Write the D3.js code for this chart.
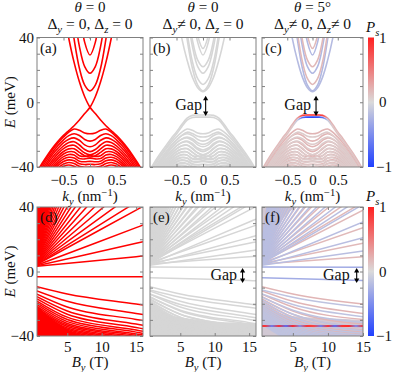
<!DOCTYPE html>
<html>
<head>
<meta charset="utf-8">
<script src="https://cdn.jsdelivr.net/npm/d3@7"></script>
<style>
  body { margin: 0; background: #fff; }
  svg text { font-family: "Liberation Serif", "Times New Roman", serif; fill: #111; }
</style>
</head>
<body>
<div id="chart"></div>
<script>
// ---------------- data ----------------
// top row: subband energies (meV) at k_y >= 0, mirrored to k_y < 0
const kHalf = [0, 0.1, 0.2, 0.3, 0.4, 0.5, 0.6, 0.7, 0.8, 0.9, 1.0];

const condA = [
  [7, 10.6, 21, 39, 62],
  [17.9, 22, 34.5, 56],
  [29.2, 37, 60],
  [39.8, 48]
];
const surfUpA = [-3.1, 3.4, 12.6, 24.6, 39.4, 57];
const surfDownA = [-3.1, -7, -11, -14.5, -17.5, -20.5, -24, -28, -32.5, -37.5, -43];
const valA = [
  [-19.5, -19, -17.3, -16.5, -18.5, -21.5, -25, -29, -33.5, -38.5, -44],
  [-24, -23, -20.5, -19.5, -20.6, -23.2, -26.6, -30.6, -35, -40, -45.5],
  [-27.5, -26.3, -23.5, -22, -22.8, -25, -28.3, -32, -36.5, -41.5],
  [-30.5, -29.2, -26.4, -24.4, -24.9, -26.9, -30, -33.7, -38, -43],
  [-32.5, -31.3, -28.8, -26.6, -26.9, -28.7, -31.6, -35.3, -39.5, -44.5],
  [-33.8, -33, -31, -28.7, -28.8, -30.4, -33.2, -36.8, -41],
  [-32.8, -33.5, -33, -30.7, -30.6, -32, -34.7, -38.3, -42.5],
  [-34.5, -35, -34.8, -32.6, -32.3, -33.6, -36.2, -39.8, -44],
  [-36.5, -36.8, -36.4, -34.4, -34, -35.1, -37.6, -41.2],
  [-38.3, -38.5, -38, -36.2, -35.6, -36.6, -39, -42.6],
  [-40, -40.2, -39.6, -37.9, -37.2, -38.1, -40.4],
  [-41.5, -41.7, -41.2, -39.6, -38.8, -39.6, -41.8]
];

// gapped panels (b), (c)
const condShiftB = [0, 4];
const valShiftB = [0, -2];
const surfUpB = [6.5, 9, 15.5, 26, 39.5, 57];
const surfDownB = [-7.9, -7.9, -8.1, -9.8, -13.8, -18.3, -22.4, -26.8, -31.3, -36.3, -41.8];
const surfDownShiftC = [0, -1.3];

// spin polarisation P_s for panel (c)
const condPc = [-0.22, 0.18];
const valPc = [0.2, 0.08];
const surfUpPc = -0.2;
const flatPc = [
  [0.95, 0.95, 0.8, 0.3, 0.2, 0.18, 0.18, 0.18, 0.18, 0.18, 0.18],
  [-0.95, -0.9, -0.7, -0.1, 0.1, 0.12, 0.12, 0.12, 0.12, 0.12, 0.12]
];

// bottom row: Landau levels vs B_y (T)
const bDomainD = [0.6, 16];
const bDomainF = [0.6, 15];
const fanOrigin = [0, 3];
const fanEndD = [9.2, 17.5, 27.2, 38.1, 43, 49.5, 57, 65, 74, 83, 93, 103, 114, 126, 138,
  151, 165, 179, 194, 210, 226, 243, 261, 280, 300, 320, 341, 363, 386, 410];
const zeroModeD = [-3.2, -3.2];
const lowB = [0.6, 5, 15];
const lowStartD = [-9.5, -12, -14, -15.6, -17, -18.3, -19.5, -20.6, -21.6, -22.5, -23.4, -24.2,
  -25, -25.8, -26.6, -27.4, -28.2, -29, -29.8, -30.6];
const lowMidD = [-14, -18.5, -22, -24.5, -26.5, -28.3, -29.8, -31.1, -32.2, -33.2, -34.1, -35,
  -35.8, -36.6, -37.4, -38.2, -39, -39.8, -40.6, -41.4];
const lowEndD = [-20.2, -26, -29.7, -32.6, -34.7, -36.3, -37.6, -38.7, -39.6, -40.4, -41.2, -42,
  -42.8, -43.6, -44.4, -45.2, -46, -46.8, -47.6, -48.4];

// saturated (unresolved) level regions: B and boundary energy
const denseTopB = { d: [0.6, 1.2, 1.8, 2.4], e: [0.6, 1.5, 2.5, 3.2], f: [0.6, 2, 3.5, 5.5] };
const denseTopE = { d: [6, 16, 30, 40], e: [6, 18, 33, 40], f: [8, 20, 32, 40] };
const denseBotB = { d: [0.6, 2, 4, 6, 7.5], e: [0.6, 3, 6, 10, 16], f: [0.6, 3, 6, 10, 15] };
const denseBotE = { d: [-21, -27, -33, -38, -40], e: [-18, -26, -29, -31, -32], f: [-20, -26, -28, -29, -30] };

// gapped panels (e), (f)
const fanOriginE = [[0, 4.5], [0, 3.5]];
const fanShiftE = [0, 3.5];
const gapUpE = [2.8, 2.6];
const gapLowE = [-3.8, -5.6];
const lowShiftE = [0, -2];
const fanPf = [0.18, -0.18];
const lowPf = [0.2, -0.15];
const gapPf = [-0.3, -0.3];
const densePf = [0.1, -0.12];
const stripEf = -33.8;
const stripB = [1, 2, 3, 4, 5, 6, 7, 8, 9, 10, 11, 12, 13, 14, 15];
const stripPf = [0.9, -0.6, 0.9, -0.7, 0.95, -0.5, 0.9, 0.8, -0.6, 0.9, -0.7, 0.9, 0.95, -0.5, 0.9];

// gap markers: [x position, E top, E bottom, x of label end, label baseline E]
const gapMarkK = { b: [0.05, 4, -8.5, -0.02, -4.8], c: [0.07, 4, -8.5, -0.03, -4.8] };
const gapMarkB = { e: [14.05, 2.2, -7.1, 13.25, -5.3], f: [14.1, 2.2, -7.1, 13.1, -5.3] };

// ---------------- layout ----------------
const W = 394, H = 372;
const colX = [[37, 143], [150, 256], [262, 363]];
const rowY = [[37.5, 167], [207, 336]];
const frameCol = "#808080";
const redLine = "#ff0000";
const grayLine = "#d6d6d6";
const pColor = d3.scaleLinear().domain([-1, 0, 1]).range(["#2040ff", "#dadada", "#ff2020"]);

const svg = d3.select("#chart").append("svg").attr("width", W).attr("height", H);
const defs = svg.append("defs");
let gid = 0;

function rich(sel, parts) {
  let shift = 0;
  parts.forEach(([t, s]) => {
    const ts = sel.append("tspan").text(t);
    let target = 0;
    if (s && s.includes("sub")) target = 4;
    if (s && s.includes("sup")) target = -5;
    if (target !== shift) ts.attr("dy", target - shift);
    shift = target;
    if (target !== 0) ts.attr("font-size", "0.7em");
    if (s && s.includes("i")) ts.attr("font-style", "italic");
  });
}

function makePanel(col, row, xDomain) {
  const x = d3.scaleLinear().domain(xDomain).range(colX[col]);
  const y = d3.scaleLinear().domain([-40, 40]).range([rowY[row][1], rowY[row][0]]);
  const id = "clip" + (gid++);
  defs.append("clipPath").attr("id", id).append("rect")
    .attr("x", colX[col][0]).attr("y", rowY[row][0])
    .attr("width", colX[col][1] - colX[col][0]).attr("height", rowY[row][1] - rowY[row][0]);
  const g = svg.append("g");
  const plot = g.append("g").attr("clip-path", `url(#${id})`);
  return { x, y, g, plot, col, row };
}

function drawFrame(p, xTicks, xFmt, letter) {
  const [x0, x1] = colX[p.col], [y0, y1] = rowY[p.row];
  const yTicks = d3.range(-40, 41, 10);
  const style = ax => {
    ax.select(".domain").remove();
    ax.selectAll("line").attr("stroke", frameCol);
    ax.attr("font-family", null).attr("font-size", 15);
  };
  p.g.append("g").attr("transform", `translate(${x0},0)`)
    .call(d3.axisLeft(p.y).tickValues(yTicks).tickSize(-3).tickPadding(3)
      .tickFormat(d => p.col === 0 && d % 40 === 0 ? d3.format("d")(d) : ""))
    .call(style);
  p.g.append("g").attr("transform", `translate(${x1},0)`)
    .call(d3.axisRight(p.y).tickValues(yTicks).tickSize(-3).tickFormat(""))
    .call(style);
  p.g.append("g").attr("transform", `translate(0,${y1})`)
    .call(d3.axisBottom(p.x).tickValues(xTicks).tickSize(-3).tickPadding(p.row === 0 ? 7 : 5).tickFormat(xFmt))
    .call(style);
  p.g.append("g").attr("transform", `translate(0,${y0})`)
    .call(d3.axisTop(p.x).tickValues(xTicks).tickSize(-3).tickFormat(""))
    .call(style);
  p.g.append("rect").attr("x", x0).attr("y", y0).attr("width", x1 - x0).attr("height", y1 - y0)
    .attr("fill", "none").attr("stroke", frameCol).attr("stroke-width", 1);
  p.g.append("text").attr("x", x0 + 3).attr("y", y0 + 15).attr("font-size", 15).text(letter);
}

// ---------- top row helpers ----------
function mirror(vals) {
  const pts = [];
  for (let i = vals.length - 1; i > 0; i--) pts.push([-kHalf[i], vals[i]]);
  for (let i = 0; i < vals.length; i++) pts.push([kHalf[i], vals[i]]);
  return pts;
}
function cone(up, down, sign) {
  const pts = [];
  for (let i = up.length - 1; i > 0; i--) pts.push([-sign * kHalf[i], up[i]]);
  pts.push([0, up[0]]);
  for (let i = 1; i < down.length; i++) pts.push([sign * kHalf[i], down[i]]);
  return pts;
}
function shifted(vals, s) { return vals.map(v => v + s); }
function kLine(p) {
  return d3.line().x(d => p.x(d[0])).y(d => p.y(d[1])).curve(d3.curveCatmullRom.alpha(0.5));
}
function kGradient(p, pArr) {
  const id = "grad" + (gid++);
  const lg = defs.append("linearGradient").attr("id", id).attr("gradientUnits", "userSpaceOnUse")
    .attr("x1", p.x(-1)).attr("x2", p.x(1)).attr("y1", 0).attr("y2", 0);
  mirror(pArr).forEach(([k, v]) => lg.append("stop").attr("offset", (k + 1) / 2).attr("stop-color", pColor(v)));
  return `url(#${id})`;
}
function band(p, pts, color, w) {
  p.plot.append("path").attr("d", kLine(p)(pts)).attr("fill", "none")
    .attr("stroke", color).attr("stroke-width", w || 1.6);
}

const kFmt = d => d === 0 ? "0" : d3.format(".1f")(d);
const kTicks = [-0.5, 0, 0.5];

// (a)
const pa = makePanel(0, 0, [-1, 1]);
valA.forEach(v => band(pa, mirror(v), redLine));
condA.forEach(v => band(pa, mirror(v), redLine));
band(pa, cone(surfUpA, surfDownA, 1), redLine);
band(pa, cone(surfUpA, surfDownA, -1), redLine);
drawFrame(pa, kTicks, kFmt, "(a)");

// (b)
const pb = makePanel(1, 0, [-1, 1]);
valShiftB.forEach(s => valA.forEach(v => band(pb, mirror(shifted(v, s)), grayLine)));
condShiftB.forEach(s => condA.forEach(v => band(pb, mirror(shifted(v, s)), grayLine)));
band(pb, mirror(surfUpB), grayLine);
surfDownShiftC.forEach(s => band(pb, mirror(shifted(surfDownB, s)), grayLine));
drawFrame(pb, kTicks, kFmt, "(b)");

// (c)
const pc = makePanel(2, 0, [-1, 1]);
valShiftB.forEach((s, i) => valA.forEach(v => band(pc, mirror(shifted(v, s)), pColor(valPc[i]))));
condShiftB.forEach((s, i) => condA.forEach(v => band(pc, mirror(shifted(v, s)), pColor(condPc[i]))));
band(pc, mirror(surfUpB), pColor(surfUpPc));
surfDownShiftC.forEach((s, i) => band(pc, mirror(shifted(surfDownB, s)), kGradient(pc, flatPc[i])));
drawFrame(pc, kTicks, kFmt, "(c)");

// ---------- bottom row ----------
function bLine(p) {
  return d3.line().x(d => p.x(d[0])).y(d => p.y(d[1])).curve(d3.curveMonotoneX);
}
function level(p, pts, color, w) {
  p.plot.append("path").attr("d", bLine(p)(pts)).attr("fill", "none")
    .attr("stroke", color).attr("stroke-width", w || 1.5);
}
// continue a level past B = 15 with the slope of its last segment
function extend(p, pts) {
  const bMax = p.x.domain()[1];
  const [a, b] = pts.slice(-2);
  if (bMax <= b[0]) return pts;
  return pts.concat([[bMax, b[1] + (b[1] - a[1]) / (b[0] - a[0]) * (bMax - b[0])]]);
}
function fanLine(p, o, e, color) { level(p, extend(p, [o, [15, e]]), color); }
function flatLine(p, ends, color) {
  const bMin = p.x.domain()[0];
  level(p, extend(p, [[bMin, ends[0]], [15, ends[1]]]), color);
}
function dense(p, key, color) {
  const top = d3.area().x(d => p.x(d[0])).y0(p.y(40)).y1(d => p.y(d[1])).curve(d3.curveMonotoneX);
  const bot = d3.area().x(d => p.x(d[0])).y0(p.y(-40)).y1(d => p.y(d[1])).curve(d3.curveMonotoneX);
  p.plot.append("path").attr("d", top(denseTopB[key].map((b, i) => [b, denseTopE[key][i]]))).attr("fill", color);
  p.plot.append("path").attr("d", bot(denseBotB[key].map((b, i) => [b, denseBotE[key][i]]))).attr("fill", color);
}
function lowPts(p, i, s) {
  return extend(p, [[lowB[0], lowStartD[i] + s], [lowB[1], lowMidD[i] + s], [lowB[2], lowEndD[i] + s]]);
}
const bTicks = [5, 10, 15];
const bFmt = d3.format("d");

// (d)
const pd = makePanel(0, 1, bDomainD);
dense(pd, "d", redLine);
fanEndD.forEach(e => fanLine(pd, fanOrigin, e, redLine));
flatLine(pd, zeroModeD, redLine);
lowStartD.forEach((_, i) => level(pd, lowPts(pd, i, 0), redLine));
drawFrame(pd, bTicks, bFmt, "(d)");

// (e)
const pe = makePanel(1, 1, bDomainD);
dense(pe, "e", grayLine);
fanOriginE.forEach((o, j) => fanEndD.forEach(e => fanLine(pe, o, e + fanShiftE[j], grayLine)));
flatLine(pe, gapUpE, grayLine);
flatLine(pe, gapLowE, grayLine);
lowShiftE.forEach(s => lowStartD.forEach((_, i) => level(pe, lowPts(pe, i, s), grayLine)));
drawFrame(pe, bTicks, bFmt, "(e)");

// (f)
const pf = makePanel(2, 1, bDomainF);
dense(pf, "f", d3.interpolateRgb(pColor(densePf[0]), pColor(densePf[1]))(0.5));
fanOriginE.forEach((o, j) => fanEndD.forEach(e => fanLine(pf, o, e + fanShiftE[j], pColor(fanPf[j]))));
flatLine(pf, gapUpE, pColor(gapPf[0]));
flatLine(pf, gapLowE, pColor(gapPf[1]));
lowShiftE.forEach((s, j) => lowStartD.forEach((_, i) => level(pf, lowPts(pf, i, s), pColor(lowPf[j]))));
{
  const id = "grad" + (gid++);
  const lg = defs.append("linearGradient").attr("id", id).attr("gradientUnits", "userSpaceOnUse")
    .attr("x1", pf.x(stripB[0])).attr("x2", pf.x(stripB[stripB.length - 1])).attr("y1", 0).attr("y2", 0);
  stripB.forEach((b, i) => lg.append("stop").attr("offset", (b - stripB[0]) / (stripB[stripB.length - 1] - stripB[0]))
    .attr("stop-color", pColor(stripPf[i])));
  level(pf, [[bDomainF[0], stripEf], [15, stripEf]], `url(#${id})`, 2);
}
drawFrame(pf, bTicks, bFmt, "(f)");

// ---------- gap markers ----------
function gapMark(p, m) {
  const [xa, e1, e2, xt, et] = m;
  const X = p.x(xa), Y1 = p.y(e1), Y2 = p.y(e2);
  p.g.append("line").attr("x1", X).attr("x2", X).attr("y1", Y1 + 2).attr("y2", Y2 - 2)
    .attr("stroke", "#000").attr("stroke-width", 1.1);
  p.g.append("path").attr("d", `M${X - 2.6},${Y1 + 4.5}L${X},${Y1}L${X + 2.6},${Y1 + 4.5}Z`).attr("fill", "#000");
  p.g.append("path").attr("d", `M${X - 2.6},${Y2 - 4.5}L${X},${Y2}L${X + 2.6},${Y2 - 4.5}Z`).attr("fill", "#000");
  p.g.append("text").attr("x", p.x(xt)).attr("y", p.y(et)).attr("text-anchor", "end")
    .attr("font-size", 16).text("Gap");
}
gapMark(pb, gapMarkK.b);
gapMark(pc, gapMarkK.c);
gapMark(pe, gapMarkB.e);
gapMark(pf, gapMarkB.f);

// ---------- titles and labels ----------
const titles = [
  [[["θ", "i"], [" = 0"]], [["Δ"], ["y", "subi"], [" = 0, Δ"], ["z", "subi"], [" = 0"]]],
  [[["θ", "i"], [" = 0"]], [["Δ"], ["y", "subi"], ["≠ 0, Δ"], ["z", "subi"], [" = 0"]]],
  [[["θ", "i"], [" = 5°"]], [["Δ"], ["y", "subi"], ["≠ 0, Δ"], ["z", "subi"], ["≠ 0"]]]
];
titles.forEach((t, c) => {
  const cx = (colX[c][0] + colX[c][1]) / 2;
  rich(svg.append("text").attr("x", cx).attr("y", 12).attr("text-anchor", "middle").attr("font-size", 15), t[0]);
  rich(svg.append("text").attr("x", cx).attr("y", 29).attr("text-anchor", "middle").attr("font-size", 15.5), t[1]);
  rich(svg.append("text").attr("x", cx).attr("y", 201).attr("text-anchor", "middle").attr("font-size", 15),
    [["k", "i"], ["y", "subi"], [" (nm"], ["−1", "sup"], [")"]]);
  rich(svg.append("text").attr("x", cx).attr("y", 367).attr("text-anchor", "middle").attr("font-size", 15),
    [["B", "i"], ["y", "subi"], [" (T)"]]);
});
rowY.forEach(([y0, y1]) => {
  rich(svg.append("text").attr("transform", `translate(15,${(y0 + y1) / 2}) rotate(-90)`)
    .attr("text-anchor", "middle").attr("font-size", 15), [["E", "i"], [" (meV)"]]);
});

// ---------- colour bars ----------
const cbGrad = defs.append("linearGradient").attr("id", "cbar").attr("x1", 0).attr("x2", 0).attr("y1", 0).attr("y2", 1);
[1, 0.5, 0, -0.5, -1].forEach(v => cbGrad.append("stop").attr("offset", (1 - v) / 2).attr("stop-color", pColor(v)));
rowY.forEach(([y0, y1]) => {
  svg.append("rect").attr("x", 368).attr("y", y0).attr("width", 6).attr("height", y1 - y0).attr("fill", "url(#cbar)");
  rich(svg.append("text").attr("x", 366).attr("y", y0 - 6).attr("font-size", 15), [["P", "i"], ["s", "subi"]]);
  svg.append("text").attr("x", 379).attr("y", y0 + 5).attr("font-size", 15).text("1");
  svg.append("text").attr("x", 379).attr("y", (y0 + y1) / 2 + 5).attr("font-size", 15).text("0");
  svg.append("text").attr("x", 376).attr("y", y1 + 5).attr("font-size", 15).text("−1");
});
</script>
</body>
</html>
